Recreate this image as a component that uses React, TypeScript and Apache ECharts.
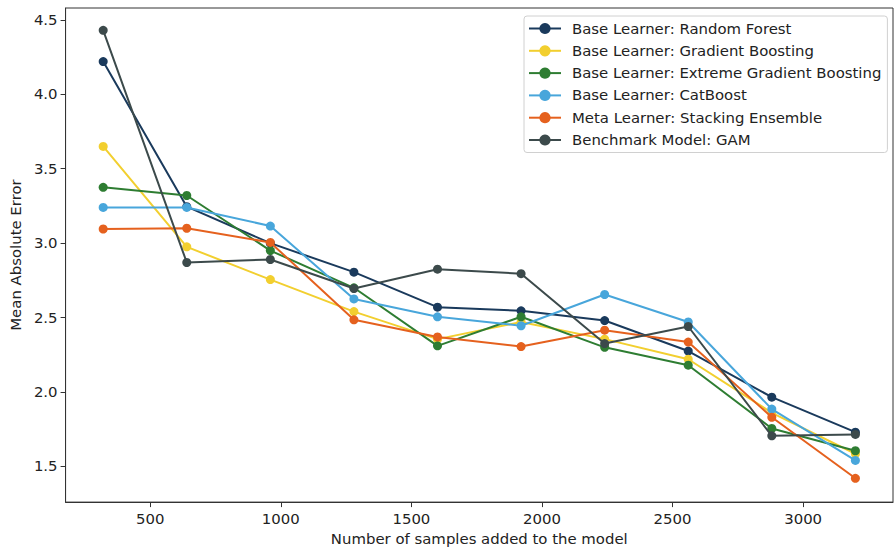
import React, { useEffect, useRef } from "react";
import * as echarts from "echarts";

const samples = [320, 640, 960, 1280, 1600, 1920, 2240, 2560, 2880, 3200];
const seriesNames = [
  "Base Learner: Random Forest",
  "Base Learner: Gradient Boosting",
  "Base Learner: Extreme Gradient Boosting",
  "Base Learner: CatBoost",
  "Meta Learner: Stacking Ensemble",
  "Benchmark Model: GAM",
];
const randomForest = [4.22, 3.245, 3.0, 2.805, 2.57, 2.545, 2.48, 2.275, 1.965, 1.73];
const gradientBoosting = [3.65, 2.975, 2.755, 2.54, 2.355, 2.47, 2.355, 2.22, 1.86, 1.585];
const extremeGB = [3.375, 3.32, 2.95, 2.7, 2.31, 2.505, 2.3, 2.18, 1.755, 1.605];
const catBoost = [3.24, 3.24, 3.115, 2.625, 2.505, 2.445, 2.655, 2.47, 1.885, 1.54];
const stacking = [3.095, 3.1, 3.005, 2.485, 2.37, 2.305, 2.415, 2.335, 1.83, 1.42];
const gam = [4.43, 2.87, 2.89, 2.695, 2.825, 2.795, 2.325, 2.44, 1.705, 1.715];
const colors = ["#1a3a5c", "#f2cf2f", "#2e7d32", "#48a6db", "#e5611e", "#3c4a4b"];
const xTicks = [500, 1000, 1500, 2000, 2500, 3000];
const yTicks = [1.5, 2.0, 2.5, 3.0, 3.5, 4.0, 4.5];

const allValues = [randomForest, gradientBoosting, extremeGB, catBoost, stacking, gam];

export default function App() {
  const ref = useRef<HTMLDivElement>(null);
  useEffect(() => {
    if (!ref.current) return;
    const chart = echarts.init(ref.current, undefined, { renderer: "svg" });
    const font = "DejaVu Sans";
    const fs = 14.9;
    chart.setOption({
      animation: false,
      textStyle: { fontFamily: font },
      grid: {
        left: 62,
        right: 1,
        top: 8,
        bottom: 46,
        show: true,
        borderColor: "#333",
        borderWidth: 1,
        backgroundColor: "#fff",
      },
      legend: {
        orient: "vertical",
        left: 524,
        top: 16,
        itemWidth: 32,
        itemHeight: 14,
        itemGap: 7.3,
        padding: [5, 6, 5, 4],
        backgroundColor: "#fff",
        borderColor: "#d0d0d0",
        borderWidth: 1,
        borderRadius: 3,
        textStyle: {
          fontFamily: font,
          fontSize: fs,
          color: "#222",
          padding: [0, 0, 0, 6],
        },
        data: seriesNames,
      },
      xAxis: {
        type: "value",
        min: 176,
        max: 3344,
        name: "Number of samples added to the model",
        nameLocation: "middle",
        nameGap: 28,
        nameTextStyle: { fontFamily: font, fontSize: fs, color: "#222" },
        splitLine: { show: false },
        axisLine: { show: true, lineStyle: { color: "#333", width: 1 } },
        axisTick: { show: true, length: 5, lineStyle: { color: "#333" }, customValues: xTicks },
        axisLabel: {
          fontFamily: font,
          fontSize: fs,
          color: "#222",
          margin: 9,
          customValues: xTicks,
          formatter: (v: number) => String(v),
        },
      },
      yAxis: {
        type: "value",
        min: 1.26,
        max: 4.58,
        name: "Mean Absolute Error",
        nameLocation: "middle",
        nameGap: 41,
        nameTextStyle: { fontFamily: font, fontSize: fs, color: "#222" },
        splitLine: { show: false },
        axisLine: { show: true, lineStyle: { color: "#333", width: 1 } },
        axisTick: { show: true, length: 5, lineStyle: { color: "#333" }, customValues: yTicks },
        axisLabel: {
          fontFamily: font,
          fontSize: fs,
          color: "#222",
          margin: 8,
          customValues: yTicks,
          formatter: (v: number) => v.toFixed(1),
        },
      },
      series: seriesNames.map((name, i) => ({
        name,
        type: "line",
        data: samples.map((x, j) => [x, allValues[i][j]]),
        symbol: "circle",
        symbolSize: 9,
        color: colors[i],
        lineStyle: { width: 2, color: colors[i] },
        itemStyle: { color: colors[i] },
        z: 2 + i,
      })),
    });
    return () => chart.dispose();
  }, []);
  return (
    <div
      ref={ref}
      style={{ position: "fixed", left: 0, top: 0, width: 894, height: 551, background: "#fff" }}
    />
  );
}
